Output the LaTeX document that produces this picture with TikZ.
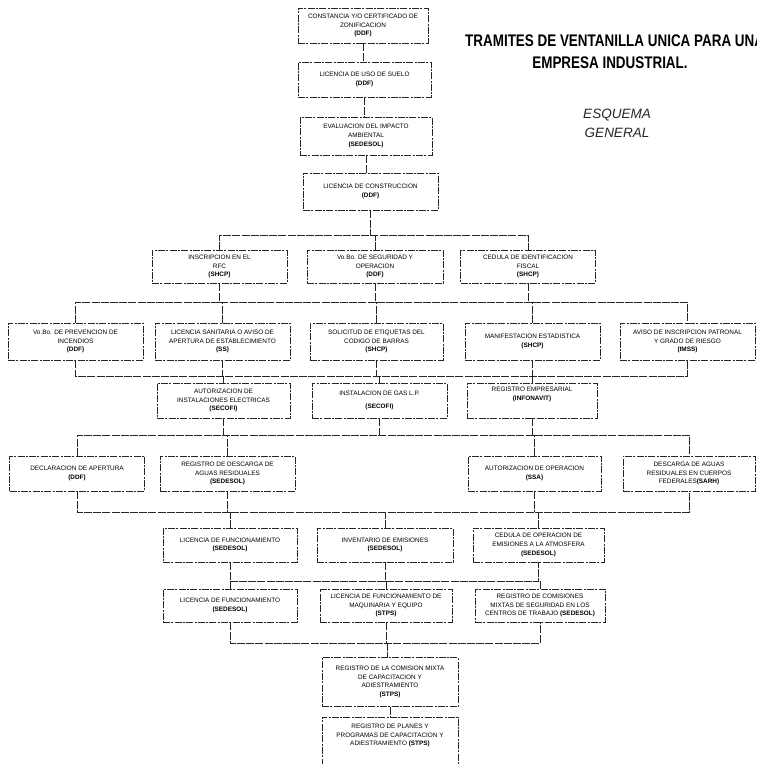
\documentclass[tikz,border=0pt]{standalone}
\usepackage{fontspec}
\setmainfont{Liberation Sans}
\newfontfamily\titlefont{Liberation Sans}
\begin{document}
\begin{tikzpicture}[x=1pt,y=-1pt,
  stepbox/.style={draw=black!85, line width=0.6pt,
    dash pattern=on 7pt off 1.3pt on 2pt off 1.3pt,
    align=center, inner sep=1pt, font=\fontsize{6.4}{8.8}\selectfont,
    minimum height=#1},
  stepbox/.default=35pt,
  link/.style={draw=black!85, line width=0.6pt, dash pattern=on 8pt off 1.2pt},
  w130/.style={minimum width=130pt},
  w135/.style={minimum width=135pt}]
\useasboundingbox (0,0) rectangle (757,764);

% --- title block ---
\node[anchor=base west, inner sep=0] (t1) at (465,46)
  {\titlefont\fontsize{16.8}{18}\selectfont\bfseries\scalebox{0.8}[1]{TRAMITES DE VENTANILLA UNICA PARA UNA}};
\node[anchor=base, inner sep=0] (t2) at (610,68)
  {\titlefont\fontsize{16.8}{18}\selectfont\bfseries\scalebox{0.8}[1]{EMPRESA INDUSTRIAL.}};
\node[anchor=base, inner sep=0, text=black!85] (s1) at (617,118)
  {\fontsize{13.5}{15}\selectfont\itshape ESQUEMA};
\node[anchor=base, inner sep=0, text=black!85] (s2) at (617,137)
  {\fontsize{13.5}{15}\selectfont\itshape GENERAL};

% --- opening chain ---
\node[stepbox, minimum width=130pt] (b1) at (363,25.5)
  {CONSTANCIA Y/O CERTIFICADO DE\\ZONIFICACION\\\textbf{(DDF)}};
\node[stepbox, minimum width=133pt] (b2) at (364.5,79.5)
  {LICENCIA DE USO DE SUELO\\\textbf{(DDF)}};
\node[stepbox=38pt, minimum width=132pt] (b3) at (366,136)
  {EVALUACION DEL IMPACTO\\AMBIENTAL\\\textbf{(SEDESOL)}};
\node[stepbox=37pt, w135] (b4) at (370.5,191.5)
  {LICENCIA DE CONSTRUCCION\\\textbf{(DDF)}};

% --- second row ---
\node[stepbox=33pt, w135] (r2a) at (219.5,266.5)
  {INSCRIPCION EN EL\\RFC\\\textbf{(SHCP)}};
\node[stepbox=33pt, minimum width=136pt] (r2b) at (375,266.5)
  {Vo.Bo. DE SEGURIDAD Y\\OPERACION\\\textbf{(DDF)}};
\node[stepbox=33pt, w135] (r2c) at (528,266.5)
  {CEDULA DE IDENTIFICACION\\FISCAL\\\textbf{(SHCP)}};

% --- third row ---
\node[stepbox=37pt, w135] (r3a) at (75.5,341.5)
  {Vo.Bo. DE PREVENCION DE\\INCENDIOS\\\textbf{(DDF)}};
\node[stepbox=37pt, w135] (r3b) at (222.5,341.5)
  {LICENCIA SANITARIA O AVISO DE\\APERTURA DE ESTABLECIMIENTO\\\textbf{(SS)}};
\node[stepbox=37pt, minimum width=133pt] (r3c) at (376.5,341.5)
  {SOLICITUD DE ETIQUETAS DEL\\CODIGO DE BARRAS\\\textbf{(SHCP)}};
\node[stepbox=37pt, w135] (r3d) at (532.5,341.5)
  {MANIFESTACION ESTADISTICA\\\textbf{(SHCP)}};
\node[stepbox=37pt, w135] (r3e) at (687.5,341.5)
  {AVISO DE INSCRIPCION PATRONAL\\Y GRADO DE RIESGO\\\textbf{(IMSS)}};

% --- fourth row ---
\node[stepbox, minimum width=133pt] (r4a) at (223.5,400.5)
  {AUTORIZACION DE\\INSTALACIONES ELECTRICAS\\\textbf{(SECOFI)}};
\node[stepbox, w135] (r4b) at (379.5,400.5)
  {INSTALACION DE GAS L.P.\\[4pt]\textbf{(SECOFI)}};
\node[stepbox, w130] (r4c) at (532,400.5)
  {REGISTRO EMPRESARIAL\\\textbf{(INFONAVIT)}\\[4pt]};

% --- fifth row ---
\node[stepbox, w135] (r5a) at (77,473.5)
  {DECLARACION DE APERTURA\\\textbf{(DDF)}};
\node[stepbox, w135] (r5b) at (227.5,473.5)
  {REGISTRO DE DESCARGA DE\\AGUAS RESIDUALES\\\textbf{(SEDESOL)}};
\node[stepbox, minimum width=133pt] (r5c) at (534.5,473.5)
  {AUTORIZACION DE OPERACION\\\textbf{(SSA)}};
\node[stepbox, minimum width=132pt] (r5d) at (689,473.5)
  {DESCARGA DE AGUAS\\RESIDUALES EN CUERPOS\\FEDERALES\textbf{(SARH)}};

% --- sixth row ---
\node[stepbox=34pt, minimum width=134pt] (r6a) at (230,545)
  {LICENCIA DE FUNCIONAMIENTO\\\textbf{(SEDESOL)}};
\node[stepbox=34pt, minimum width=136pt] (r6b) at (385,545)
  {INVENTARIO DE EMISIONES\\\textbf{(SEDESOL)}};
\node[stepbox=34pt, minimum width=131pt] (r6c) at (538.5,545)
  {CEDULA DE OPERACION DE\\EMISIONES A LA ATMOSFERA\\\textbf{(SEDESOL)}};

% --- seventh row ---
\node[stepbox=33pt, minimum width=134pt] (r7a) at (230,605.5)
  {LICENCIA DE FUNCIONAMIENTO\\\textbf{(SEDESOL)}};
\node[stepbox=33pt, minimum width=132pt] (r7b) at (386,605.5)
  {LICENCIA DE FUNCIONAMIENTO DE\\MAQUINARIA Y EQUIPO\\\textbf{(STPS)}};
\node[stepbox=33pt, w130] (r7c) at (540,605.5)
  {REGISTRO DE COMISIONES\\MIXTAS DE SEGURIDAD EN LOS\\CENTROS DE TRABAJO \textbf{(SEDESOL)}};

% --- closing chain ---
\node[stepbox=49pt, minimum width=136pt] (r8) at (390,682)
  {REGISTRO DE LA COMISION MIXTA\\DE CAPACITACION Y\\ADIESTRAMIENTO\\\textbf{(STPS)}};
\node[stepbox=58pt, minimum width=136pt, anchor=north] (r9) at (390,717)
  {REGISTRO DE PLANES Y\\PROGRAMAS DE CAPACITACION Y\\ADIESTRAMIENTO \textbf{(STPS)}\\[14pt]};

% --- bus levels ---
\coordinate (j1) at (372,235);
\coordinate (j2) at (372,302);
\coordinate (j3) at (372,376);
\coordinate (j4) at (372,435);
\coordinate (j5) at (372,512);
\coordinate (j6) at (372,581);
\coordinate (j7) at (387,643);

% --- connectors ---
\draw[link] (b1.south) -- (b1.south |- b2.north);
\draw[link] (b2.south) -- (b2.south |- b3.north);
\draw[link] (b3.south) -- (b3.south |- b4.north);

\draw[link] (b4.south) -- (b4.south |- j1);
\draw[link] (r2a.north) -- (r2a.north |- j1) -- (r2c.north |- j1) -- (r2c.north);
\draw[link] (r2b.north) -- (r2b.north |- j1);

\draw[link] (r2a.south) -- (r2a.south |- j2);
\draw[link] (r2b.south) -- (r2b.south |- j2);
\draw[link] (r2c.south) -- (r2c.south |- j2);
\draw[link] (r3a.north) -- (r3a.north |- j2) -- (r3e.north |- j2) -- (r3e.north);
\foreach \n in {r3b,r3c,r3d} \draw[link] (\n.north) -- (\n.north |- j2);

\draw[link] (r3a.south) -- (r3a.south |- j3) -- (r3e.south |- j3) -- (r3e.south);
\foreach \n in {r3b,r3c,r3d} \draw[link] (\n.south) -- (\n.south |- j3);
\foreach \n in {r4a,r4b,r4c} \draw[link] (\n.north) -- (\n.north |- j3);

\foreach \n in {r4a,r4b,r4c} \draw[link] (\n.south) -- (\n.south |- j4);
\draw[link] (r5a.north) -- (r5a.north |- j4) -- (r5d.north |- j4) -- (r5d.north);
\foreach \n in {r5b,r5c} \draw[link] (\n.north) -- (\n.north |- j4);

\draw[link] (r5a.south) -- (r5a.south |- j5) -- (r5d.south |- j5) -- (r5d.south);
\foreach \n in {r5b,r5c} \draw[link] (\n.south) -- (\n.south |- j5);
\foreach \n in {r6a,r6b,r6c} \draw[link] (\n.north) -- (\n.north |- j5);

\draw[link] (r6a.south) -- (r6a.south |- j6) -- (r6c.south |- j6) -- (r6c.south);
\draw[link] (r6b.south) -- (r6b.south |- j6);
\foreach \n in {r7a,r7b,r7c} \draw[link] (\n.north) -- (\n.north |- j6);

\draw[link] (r7a.south) -- (r7a.south |- j7) -- (r7c.south |- j7) -- (r7c.south);
\draw[link] (r7b.south) -- (r7b.south |- j7);
\draw[link] (j7) -- (j7 |- r8.north);
\draw[link] (r8.south) -- (r8.south |- r9.north);
\end{tikzpicture}
\end{document}
